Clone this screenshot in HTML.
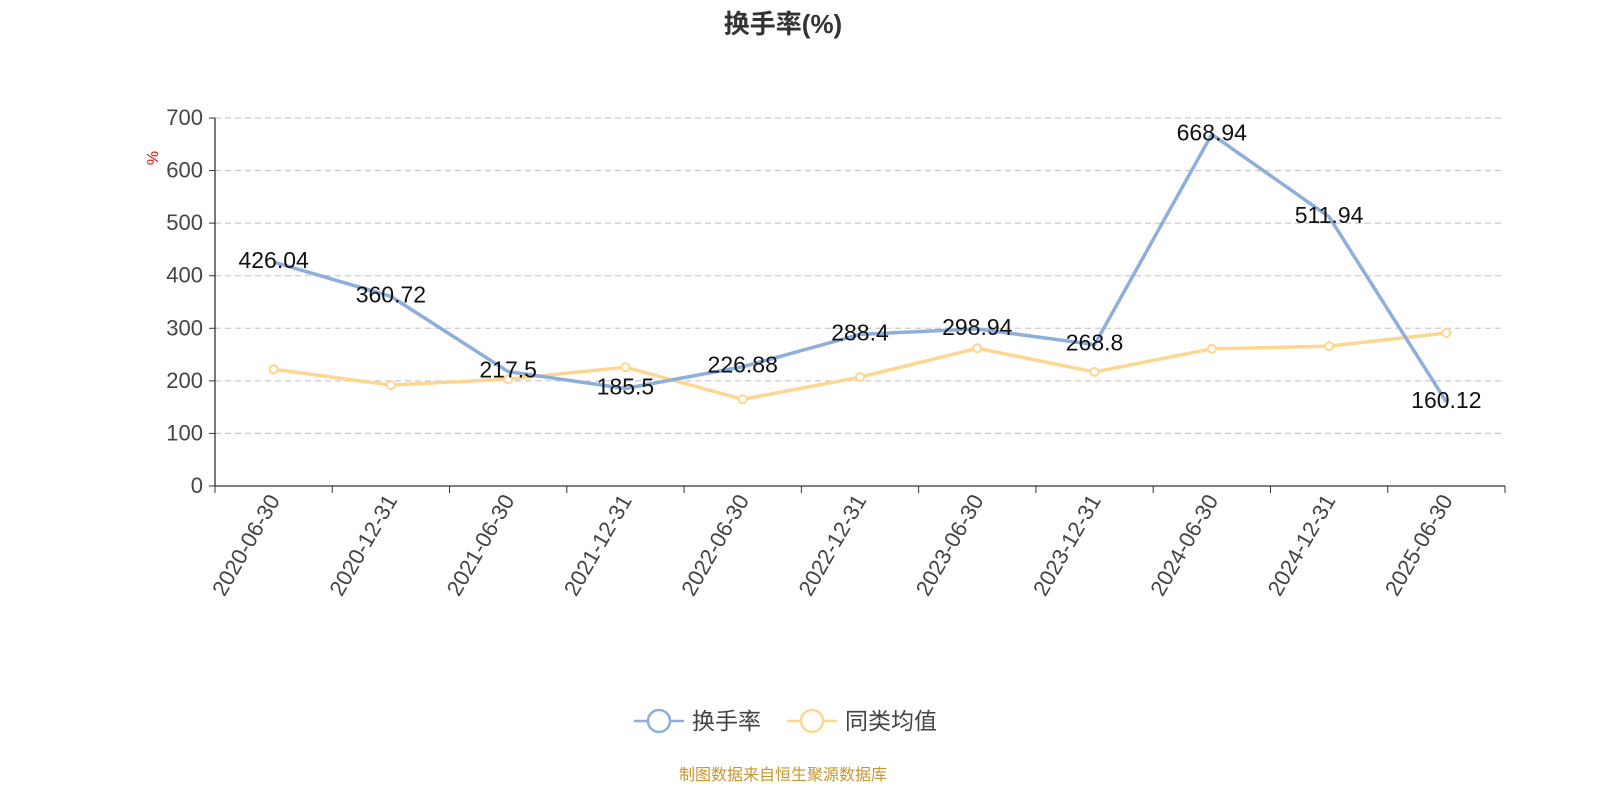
<!DOCTYPE html>
<html><head><meta charset="utf-8"><style>
body{margin:0;background:#fff;width:1600px;height:800px;overflow:hidden;font-family:"Liberation Sans","Noto Sans CJK SC",sans-serif}
</style></head><body>
<svg id="c" width="1600" height="800" xmlns="http://www.w3.org/2000/svg" font-family="Liberation Sans, Noto Sans CJK SC, sans-serif"></svg>
<script>
const categories=["2020-06-30","2020-12-31","2021-06-30","2021-12-31","2022-06-30","2022-12-31","2023-06-30","2023-12-31","2024-06-30","2024-12-31","2025-06-30"];
const turnover=[426.04,360.72,217.5,185.5,226.88,288.4,298.94,268.8,668.94,511.94,160.12];
const peerAvg=[222,192,203,226,165,207,262,217,261,266,291];
const yTicks=[0,100,200,300,400,500,600,700];
const svg=document.getElementById('c');const NS='http://www.w3.org/2000/svg';
function mk(t,a,p){const e=document.createElementNS(NS,t);for(const k in a)e.setAttribute(k,a[k]);(p||svg).appendChild(e);return e;}
const x0=215,x1=1505,yb=486,yt=118,bw=(x1-x0)/categories.length;
const xs=i=>x0+bw*(i+0.5);const ys=v=>yb-(v/700)*(yb-yt);
let t=mk('text',{x:783,y:33,'text-anchor':'middle','font-size':26,'font-weight':'bold',fill:'#333'});t.textContent='换手率(%)';

t=mk('text',{x:0,y:0,transform:'translate(158,158) rotate(-90)','text-anchor':'middle','font-size':16,fill:'red'});t.textContent='%';

yTicks.forEach(v=>{const y=ys(v);
if(v>0){const l=mk('line',{x1:x0,x2:x1,y1:y,y2:y,stroke:'#ccc','stroke-dasharray':'6,4','stroke-width':1.3});}
mk('line',{x1:x0-6,x2:x0,y1:y,y2:y,stroke:'#333'});
const tx=mk('text',{x:x0-12,y:y+7,'text-anchor':'end','font-size':22,fill:'#444'});tx.textContent=v;
});
mk('line',{x1:x0,x2:x0,y1:yt,y2:yb,stroke:'#333','stroke-width':1.3});
mk('line',{x1:x0,x2:x1,y1:yb,y2:yb,stroke:'#333','stroke-width':1.3});
for(let i=0;i<=categories.length;i++){const x=x0+bw*i;mk('line',{x1:x,x2:x,y1:yb,y2:yb+7,stroke:'#333'});}
categories.forEach((c,i)=>{const x=xs(i);const tx=mk('text',{x:0,y:0,transform:`translate(${x+7},${yb+14}) rotate(-60)`,'text-anchor':'end','font-size':22,fill:'#444'});tx.textContent=c;
});
function series(vals,color,name,sym){const p=mk('polyline',{points:vals.map((v,i)=>xs(i)+','+ys(v)).join(' '),fill:'none',stroke:color,'stroke-width':3.5,'stroke-linejoin':'round'});

if(sym)vals.forEach((v,i)=>{const c=mk('circle',{cx:xs(i),cy:ys(v),r:4,fill:'#fff',stroke:color,'stroke-width':2});});}
series(peerAvg,'#fdd792','peer-average-line',true);
series(turnover,'#8eaedb','turnover-line',false);
turnover.forEach((v,i)=>{const y=ys(v)+6;
const tx=mk('text',{x:xs(i),y:y,'text-anchor':'middle','font-size':23,fill:'#111'});tx.textContent=v;
});
function legend(x,color,label,name){const g=mk('g',{});
mk('line',{x1:x,x2:x+50,y1:721,y2:721,stroke:color,'stroke-width':2.5},g);mk('circle',{cx:x+25,cy:721,r:11,fill:'#fff',stroke:color,'stroke-width':2.5},g);
const tx=mk('text',{x:x+58,y:729,'font-size':23,fill:'#444'},g);tx.textContent=label;}
legend(634,'#8eaedb','换手率','legend-turnover');legend(787,'#fdd792','同类均值','legend-peer-average');
t=mk('text',{x:783,y:780,'text-anchor':'middle','font-size':16,fill:'#c8962c'});t.textContent='制图数据来自恒生聚源数据库';

</script></body></html>
